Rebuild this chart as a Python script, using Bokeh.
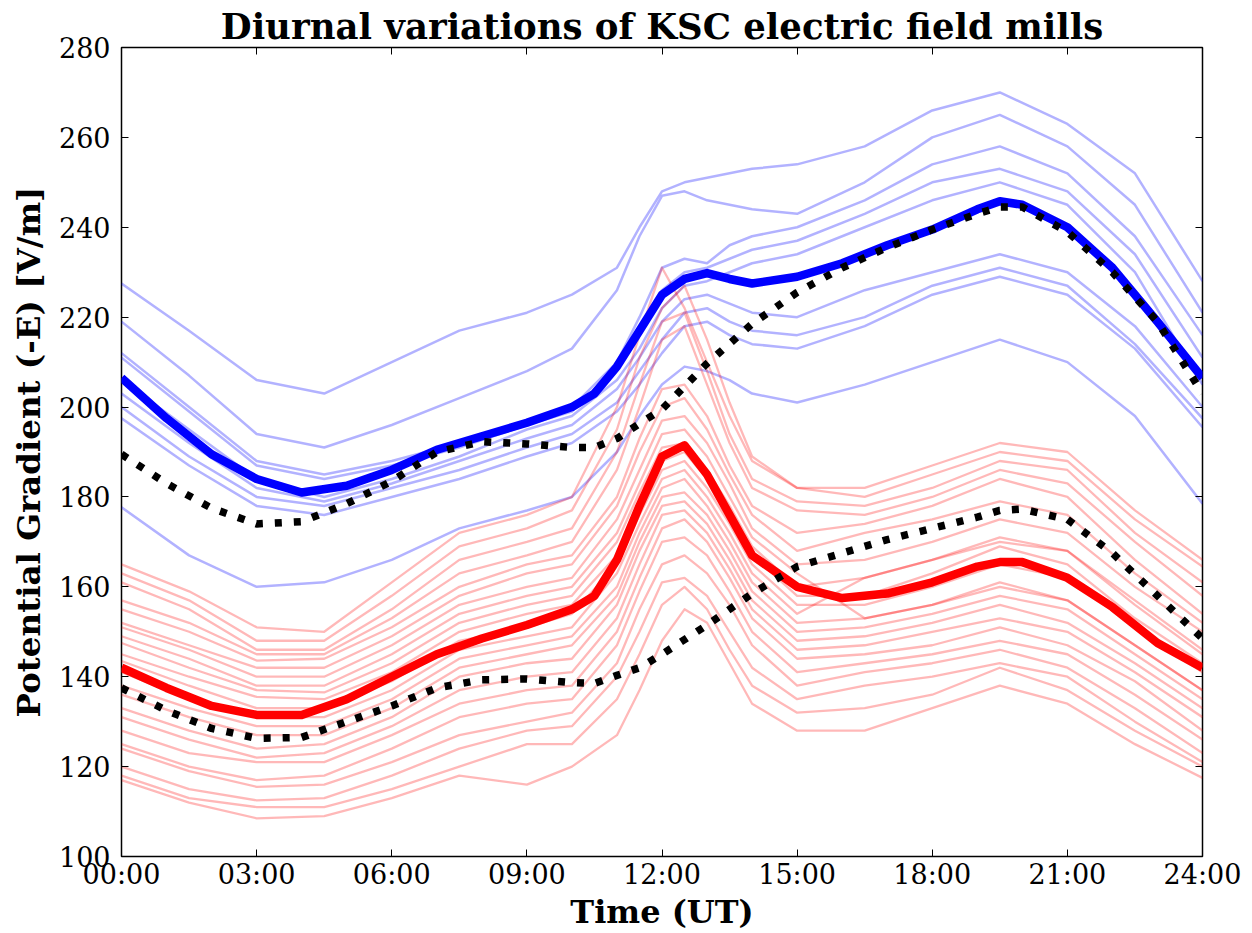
from bokeh.plotting import figure
from bokeh.models import FixedTicker, LinearAxis, Range1d
from bokeh.embed import file_html
from bokeh.resources import INLINE

# ---------------- data ----------------
title_text = "Diurnal variations of KSC electric field mills"
x_label = "Time (UT)"
y_label = "Potential Gradient (-E) [V/m]"

x_ticks = [0, 3, 6, 9, 12, 15, 18, 21, 24]
x_tick_labels = ["00:00", "03:00", "06:00", "09:00", "12:00", "15:00", "18:00", "21:00", "24:00"]
y_ticks = [100, 120, 140, 160, 180, 200, 220, 240, 260, 280]

# knot times (hours UT) for the thin individual curves
thin_hours = [0, 1.5, 3, 4.5, 6, 7.5, 9, 10, 11, 11.5, 12, 12.5, 13, 13.5, 14, 15, 16.5, 18, 19.5, 21, 22.5, 24]

blue_thin = [
    [227.5, 217, 206, 203, 210, 217, 221, 225, 231, 240, 248, 250, 251, 252, 253, 254, 258, 266, 270, 263, 252, 228],
    [219, 207, 194, 191, 196, 202, 208, 213, 226, 238, 247, 248, 246, 245, 244, 243, 250, 260, 265, 258, 245, 221],
    [212, 200, 188, 185, 188, 192, 197, 200, 210, 220, 231, 233, 232, 236, 238, 240, 246, 254, 258, 252, 238, 216],
    [211, 199, 187, 184, 187, 191, 196, 199, 209, 217, 226, 230, 231, 233, 235, 237, 243, 250, 253, 248, 234, 211],
    [206, 195, 184, 180, 184, 189, 195, 198, 206, 213, 222, 227, 228, 230, 232, 234, 240, 246, 250, 245, 230, 205],
    [203, 192, 182, 179, 183, 188, 193, 196, 204, 211, 219, 224, 225, 223, 221, 220, 226, 230, 234, 230, 218, 200],
    [200, 189, 180, 178, 182, 186, 191, 194, 201, 208, 215, 221, 222, 219, 217, 216, 220, 227, 231, 227, 214, 197.5],
    [197.5, 187, 178, 176, 180, 184, 189, 192, 199, 205, 212, 218, 219, 216, 214, 213, 218, 225, 229, 225, 213, 195.5],
    [177.7, 167, 160, 161, 166, 173, 177, 180, 190, 198, 205, 209, 208, 206, 203, 201, 205, 210, 215, 210, 198, 178.5],
]

red_thin = [
    [165, 159, 151, 150, 161, 172, 176, 180, 200, 216, 231, 222, 210, 198, 188, 182, 182, 187, 192, 190, 177, 166],
    [163, 157, 148, 148, 158, 169, 173, 177, 195, 211, 222, 227, 215, 201, 189, 182, 180, 185, 190, 188, 175, 164.5],
    [161, 155, 146, 146, 155, 166, 170, 173, 190, 205, 219, 221, 208, 194, 184, 179, 178, 182, 188, 186, 172, 161],
    [157, 152, 145, 145, 153, 163, 167, 170, 186, 200, 215, 218, 205, 192, 182, 177, 176, 180, 186, 183, 170, 158],
    [155, 150, 143.6, 144, 151, 160, 165, 167, 180, 193, 204, 205, 198, 187, 178, 172, 174, 178, 184, 180, 166, 154],
    [152, 147, 142, 142, 149, 158, 163, 165, 178, 190, 200, 202, 195, 185, 176, 168, 172, 175, 179, 176, 163, 152],
    [151, 146, 140, 140, 147, 156, 160, 162, 175, 186, 197, 198, 192, 183, 173, 165, 166, 170, 175, 172, 160, 150],
    [149, 144, 138, 138, 145, 154, 158, 160, 172, 183, 194, 195, 189, 180, 171, 163, 153, 156, 160, 157, 147, 137],
    [147.5, 142, 137, 136.5, 143, 152, 156, 158, 170, 181, 191, 192, 186, 178, 169, 160, 162, 166, 171, 168, 156, 145],
    [145, 140, 135.5, 135, 141, 150, 154, 156, 167, 178, 188, 190, 184, 176, 167, 158, 158, 163, 169, 165, 153, 143],
    [143.5, 138, 133, 133, 139, 148, 151, 154, 165, 176, 186, 188, 182, 174, 165, 156, 156, 160, 165, 162, 151, 141],
    [141, 135, 131, 131, 137, 146, 149, 151, 163, 174, 184, 186, 180, 172, 163, 154, 162, 166, 170, 168, 157, 146],
    [138, 133, 129, 129, 135, 144, 147, 149, 160, 172, 182, 184, 178, 170, 161, 152, 153, 156, 161, 157, 147, 137],
    [136, 131, 127, 127, 133, 142, 145, 147, 158, 170, 180, 181, 176, 168, 159, 150, 151, 154, 158, 155, 145, 135],
    [133, 128, 124, 125, 131, 140, 143, 144, 156, 168, 178, 179, 174, 166, 157, 148, 149, 152, 156, 152, 143, 133],
    [131, 126, 122, 123, 129, 137, 140, 141, 153, 165, 176, 177, 172, 164, 155, 146, 147, 150, 153, 150, 141, 131],
    [128, 123, 121, 121, 127, 134, 137, 138, 150, 162, 173, 175, 170, 162, 153, 144, 145, 147, 151, 147, 139, 128],
    [125, 120, 117, 118, 124, 131, 134, 135, 147, 159, 170, 171, 167, 159, 150, 141, 143, 145, 148, 145, 136, 126],
    [124, 119, 115.5, 116, 121, 127, 130, 132, 143, 155, 165, 167, 163, 156, 147, 138, 141, 143, 146, 142, 133, 123],
    [120, 115, 112.5, 113, 118, 124, 128, 129, 140, 150, 161, 162, 158, 150, 142, 135, 138, 140, 143, 140, 130, 121],
    [118, 113, 111, 111, 115, 120, 125, 125, 135, 145, 156, 160, 155, 146, 138, 132, 133, 136, 142, 137, 128, 120],
    [117, 112, 108.5, 109, 113, 118, 116, 120, 127, 137, 148, 155, 152, 143, 134, 128, 128, 133, 138, 134, 125, 117.5],
]

# mean curves
mean_hours = [0, 1, 2, 3, 4, 5, 6, 7, 8, 9, 10, 10.5, 11, 11.5, 12, 12.5, 13, 13.5, 14, 15, 16, 17, 18, 19, 19.5, 20, 21, 22, 23, 24]
blue_mean = [206.5, 197.5, 189.5, 184, 181, 182.5, 186, 190.5, 193.5, 196.5, 200, 203, 209, 217, 225, 228.5,
             229.8, 228.5, 227.5, 229, 232, 236, 239.5, 244, 245.8, 245, 240, 231, 219, 206.5]
red_mean = [142, 137.5, 133.5, 131.5, 131.5, 135, 140, 145, 148.5, 151.5, 155, 158, 166, 178, 189, 191.5,
            185, 176, 167, 160, 157.5, 158.5, 161, 164.5, 165.5, 165.5, 162, 155.5, 147.5, 142]

# dotted reference curves
dotted_hours = [0, 1, 2, 3, 4, 5, 6, 7, 8, 9, 10, 10.5, 11, 11.5, 12, 13, 14, 15, 16, 17, 18, 19, 19.5, 20, 21, 22, 23, 24]
upper_dotted = [189.5, 183, 177.5, 174, 174.5, 178.5, 183.5, 190, 192.3, 191.8, 191, 191, 193, 196.3, 199.5,
                209.7, 218.5, 225.5, 231, 235.5, 239.5, 243, 244.5, 244.5, 239, 230, 219, 203]
lower_dotted = [137.5, 132.5, 128.5, 126.3, 126.5, 130, 133.5, 137.5, 139.3, 139.5, 138.7, 138.5, 140.3, 142, 145,
                151.5, 158.5, 164.5, 167.5, 170.5, 173, 175.5, 177, 177.3, 175, 167.5, 158, 148.5]

# ---------------- figure ----------------
FONT = "DejaVu Serif"

p = figure(width=1252, height=933, x_range=Range1d(0, 24), y_range=Range1d(100, 280),
           output_backend="svg", toolbar_location=None, title=title_text,
           min_border_left=121, min_border_right=50, min_border_top=47, min_border_bottom=77)

p.background_fill_color = "white"
p.border_fill_color = "white"
p.outline_line_color = "black"
p.outline_line_width = 1.5
p.xgrid.visible = False
p.ygrid.visible = False

p.title.text_font = FONT
p.title.text_font_size = "35.5px"
p.title.text_font_style = "bold"
p.title.text_color = "black"
p.title.align = "center"
p.title.standoff = 2

for ax in (p.xaxis[0], p.yaxis[0]):
    ax.axis_line_color = None
    ax.major_tick_in = 7
    ax.major_tick_out = 0
    ax.major_tick_line_color = "black"
    ax.minor_tick_line_color = None
    ax.major_label_text_font = FONT
    ax.major_label_text_font_size = "27px"
    ax.major_label_text_color = "black"
    ax.axis_label_text_font = FONT
    ax.axis_label_text_font_size = "32px"
    ax.axis_label_text_font_style = "bold"
    ax.axis_label_text_color = "black"

p.xaxis.ticker = FixedTicker(ticks=x_ticks)
p.xaxis.major_label_overrides = {t: lab for t, lab in zip(x_ticks, x_tick_labels)}
p.xaxis.axis_label = x_label
p.xaxis.major_label_standoff = 2
p.xaxis.axis_label_standoff = 0

p.yaxis.ticker = FixedTicker(ticks=y_ticks)
p.yaxis.axis_label = y_label
p.yaxis.axis_label_text_font_size = "32.5px"
p.yaxis.major_label_standoff = 11
p.yaxis.axis_label_standoff = 8

# mirrored tick marks on top and right (labels not rendered)
top_axis = LinearAxis(ticker=FixedTicker(ticks=x_ticks), major_label_text_font_size="1px",
                      major_label_text_color=None, major_tick_in=7, major_tick_out=0,
                      minor_tick_line_color=None, axis_line_color=None, major_label_standoff=0)
p.add_layout(top_axis, "above")
right_axis = LinearAxis(ticker=FixedTicker(ticks=y_ticks), major_label_text_font_size="1px",
                        major_label_text_color=None, major_tick_in=7, major_tick_out=0,
                        minor_tick_line_color=None, axis_line_color=None, major_label_standoff=0)
p.add_layout(right_axis, "right")

# ---------------- curves ----------------
for ys in blue_thin:
    p.line(thin_hours, ys, line_color="blue", line_alpha=0.3, line_width=2.5, line_join="round")
for ys in red_thin:
    p.line(thin_hours, ys, line_color="red", line_alpha=0.28, line_width=2.3, line_join="round")

p.line(mean_hours, blue_mean, line_color="blue", line_width=8.5, line_join="round")
p.line(mean_hours, red_mean, line_color="red", line_width=8.5, line_join="round")

p.line(dotted_hours, upper_dotted, line_color="black", line_width=7.5, line_dash="7 12", line_cap="butt")
p.line(dotted_hours, lower_dotted, line_color="black", line_width=7.5, line_dash="7 12", line_cap="butt")

open("out.html", "w").write(file_html(p, INLINE))
